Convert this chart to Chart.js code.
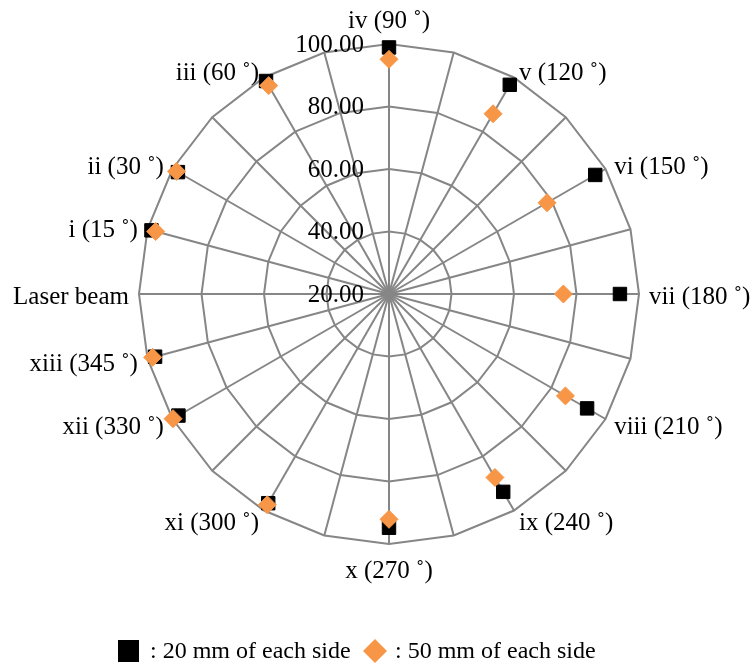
<!DOCTYPE html>
<html>
<head>
<meta charset="utf-8">
<script src="https://cdn.jsdelivr.net/npm/chart.js@4/dist/chart.umd.min.js"></script>
<style>
  html, body { margin: 0; padding: 0; background: #ffffff; }
  #wrap { width: 756px; height: 668px; position: relative; }
</style>
</head>
<body>
<div id="wrap"><canvas id="c" width="756" height="668"></canvas></div>
<script>
// 24 spokes, 15 degrees apart, starting at the laser beam direction
const categories = [
  'Laser beam', 'i (15 ˚)', 'ii (30 ˚)', '', 'iii (60 ˚)', '', 'iv (90 ˚)', '',
  'v (120 ˚)', '', 'vi (150 ˚)', '', 'vii (180 ˚)', '', 'viii (210 ˚)', '',
  'ix (240 ˚)', '', 'x (270 ˚)', '', 'xi (300 ˚)', '', 'xii (330 ˚)', 'xiii (345 ˚)'
];
const side20 = [
  null, 98.7, 98.0, null, 98.7, null, 98.9, null,
  97.3, null, 96.2, null, 93.9, null, 93.2, null,
  93.1, null, 94.8, null, 97.3, null, 97.8, 97.5
];
const side50 = [
  null, 97.3, 98.5, null, 97.0, null, 95.1, null,
  86.6, null, 78.4, null, 75.8, null, 85.2, null,
  87.8, null, 92.1, null, 97.9, null, 99.8, 98.3
];
const tickValues = [20, 40, 60, 80, 100];
const tickLabels = ['20.00', '40.00', '60.00', '80.00', '100.00'];
const seriesNames = [': 20 mm of each side', ': 50 mm of each side'];

const FONT = '25px "Liberation Serif", "Times New Roman", serif';
const LEGEND_FONT = '24px "Liberation Serif", "Times New Roman", serif';
const ORANGE = '#F79646';
const GRID = '#868686';

const textPlugin = {
  id: 'textPlugin',
  afterDraw(chart) {
    const ctx = chart.ctx;
    const s = chart.scales.r;
    ctx.save();
    ctx.font = FONT;
    ctx.fillStyle = '#000000';
    // radial tick labels, left of the vertical spoke
    ctx.textAlign = 'right';
    ctx.textBaseline = 'middle';
    tickValues.forEach((v, k) => {
      const d = s.getDistanceFromCenterForValue(v);
      ctx.fillText(tickLabels[k], s.xCenter - 25, s.yCenter - d + 1);
    });
    // category labels
    categories.forEach((lab, i) => {
      if (!lab) return;
      const p = s.getPointPosition(i, s.drawingArea + 10);
      const c = Math.cos(p.angle), sn = Math.sin(p.angle);
      let y = p.y;
      if (Math.abs(c) < 0.01) {
        ctx.textAlign = 'center';
        ctx.textBaseline = sn < 0 ? 'bottom' : 'top';
        y += sn < 0 ? 0 : 5;
      } else {
        ctx.textAlign = c > 0 ? 'left' : 'right';
        ctx.textBaseline = 'middle';
        y += 3 + Math.abs(sn) * 1.5;
      }
      ctx.fillText(lab, p.x, y);
    });
    // legend
    ctx.font = LEGEND_FONT;
    const ly = 651;
    ctx.fillStyle = '#000000';
    ctx.fillRect(118, ly - 11, 21, 22);
    ctx.textAlign = 'left';
    ctx.textBaseline = 'middle';
    ctx.fillText(seriesNames[0], 150, ly + 1);
    ctx.fillStyle = ORANGE;
    ctx.beginPath();
    ctx.moveTo(375, ly - 12);
    ctx.lineTo(387, ly);
    ctx.lineTo(375, ly + 12);
    ctx.lineTo(363, ly);
    ctx.closePath();
    ctx.fill();
    ctx.fillStyle = '#000000';
    ctx.fillText(seriesNames[1], 395, ly + 1);
    ctx.restore();
  }
};

new Chart(document.getElementById('c'), {
  type: 'radar',
  data: {
    labels: categories,
    datasets: [
      {
        label: seriesNames[0],
        data: side20,
        order: 1,
        showLine: false,
        fill: false,
        borderWidth: 0,
        pointStyle: 'rect',
        pointRadius: 9.5,
        pointBackgroundColor: '#000000',
        pointBorderColor: '#000000',
        pointBorderWidth: 1
      },
      {
        label: seriesNames[1],
        data: side50,
        order: 0,
        showLine: false,
        fill: false,
        borderWidth: 0,
        pointStyle: 'rectRot',
        pointRadius: 9,
        pointBackgroundColor: ORANGE,
        pointBorderColor: ORANGE,
        pointBorderWidth: 1
      }
    ]
  },
  options: {
    responsive: false,
    animation: false,
    layout: { padding: { left: 139, right: 117, top: 44, bottom: 124 } },
    plugins: { legend: { display: false }, tooltip: { enabled: false } },
    scales: {
      r: {
        min: 20,
        max: 100,
        startAngle: 270,
        ticks: { display: false, stepSize: 20 },
        pointLabels: { display: false },
        grid: { circular: false, color: GRID, lineWidth: 2 },
        angleLines: { display: true, color: GRID, lineWidth: 2 }
      }
    }
  },
  plugins: [textPlugin]
});
</script>
</body>
</html>
